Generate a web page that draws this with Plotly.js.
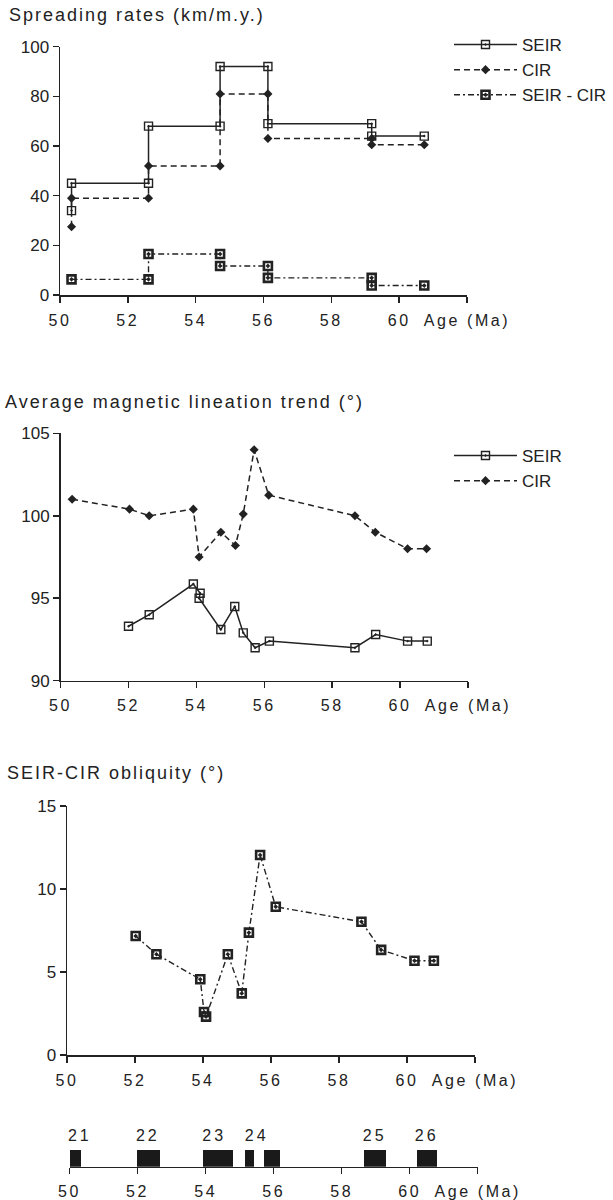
<!DOCTYPE html>
<html>
<head>
<meta charset="utf-8">
<script src="https://cdn.plot.ly/plotly-3.0.1.min.js"></script>
<style>
  html, body { margin: 0; padding: 0; background: #ffffff; }
  #chart { width: 613px; height: 1200px; }
  .xtick text, .x2tick text, .x3tick text, .x4tick text { letter-spacing: 2.6px; }
  .annotation-text { letter-spacing: 2px; }
  g.textpoint text { letter-spacing: 3px; }
</style>
</head>
<body>
<div id="chart"></div>
<script>
// ---------- Data ----------
// Panel 1: spreading rates (km/m.y.), step functions
var rateAge   = [50.34, 50.34, 52.61, 52.61, 54.72, 54.72, 56.13, 56.13, 59.19, 59.19, 60.74];
var seirRate  = [34, 45, 45, 68, 68, 92, 92, 69, 69, 64, 64];
var cirRate   = [27.5, 39, 39, 52, 52, 81, 81, 63, 63, 60.5, 60.5];
var diffAge   = [50.34, 52.61, 52.61, 54.72, 54.72, 56.13, 56.13, 59.19, 59.19, 60.74];
var diffRate  = [6.3, 6.3, 16.5, 16.5, 11.7, 11.7, 6.9, 6.9, 3.8, 3.8];

// Panel 2: average magnetic lineation trend (deg)
var cirTrendAge  = [50.34, 52.03, 52.61, 53.91, 54.08, 54.72, 55.15, 55.38, 55.70, 56.13, 58.67, 59.27, 60.22, 60.78];
var cirTrend     = [101.0, 100.4, 100.0, 100.4, 97.5, 99.0, 98.2, 100.1, 104.0, 101.25, 100.0, 99.0, 98.0, 98.0];
var seirTrendAge = [52.0, 52.61, 53.91, 54.11, 54.08, 54.72, 55.13, 55.38, 55.73, 56.15, 58.67, 59.28, 60.22, 60.8];
var seirTrend    = [93.3, 94.0, 95.86, 95.3, 95.0, 93.1, 94.5, 92.9, 92.0, 92.4, 92.0, 92.8, 92.4, 92.4];

// Panel 3: SEIR-CIR obliquity (deg)
var oblAge    = [52.02, 52.63, 53.92, 54.03, 54.09, 54.73, 55.14, 55.35, 55.68, 56.14, 58.66, 59.24, 60.22, 60.79];
var obliquity = [7.17, 6.07, 4.56, 2.59, 2.31, 6.07, 3.71, 7.37, 12.05, 8.93, 8.03, 6.33, 5.68, 5.68];

// Panel 4: magnetic anomaly (chron) blocks
var chronStart = [50.0, 51.98, 53.91, 55.16, 55.71, 58.67, 60.22];
var chronEnd   = [50.34, 52.67, 54.80, 55.43, 56.20, 59.30, 60.80];
var chronLabels   = ['21', '22', '23', '24', '25', '26'];
var chronLabelAge = [50.30, 52.30, 54.25, 55.50, 58.97, 60.50];

// Ticks
var ageTicks = [50, 52, 54, 56, 58, 60, 62];
var ageTickText = ['50', '52', '54', '56', '58', '60', 'Age (Ma)'];
var rateTicks = [0, 20, 40, 60, 80, 100];
var trendTicks = [90, 95, 100, 105];
var oblTicks = [0, 5, 10, 15];

// ---------- Layout helpers ----------
var W = 613, H = 1200;
function px(x) { return x / W; }
function py(y) { return 1 - y / H; }

var INK = '#222222';
var FONT = '"Liberation Sans", Arial, Helvetica, sans-serif';

var chronMid = chronStart.map(function (s, i) { return (s + chronEnd[i]) / 2; });
var chronWidth = chronStart.map(function (s, i) { return chronEnd[i] - s; });
var chronOnes = chronStart.map(function () { return 1; });
var chronLabelY = chronLabels.map(function () { return 1.75; });

var solid = 'solid', dashed = '6px,4px', dashdot = '6px,3px,2px,3px';

var seirMarker = { symbol: 'square-open-dot', size: 8, color: INK, line: { color: INK, width: 1.4 } };
var cirMarker  = { symbol: 'diamond', size: 7, color: INK, line: { color: INK, width: 0 } };
var diffMarker = { symbol: 'square-open-dot', size: 8, color: INK, line: { color: INK, width: 2.6 } };

var traces = [
  { x: rateAge, y: seirRate, xaxis: 'x', yaxis: 'y', mode: 'lines+markers', name: 'SEIR',
    line: { color: INK, width: 1.5, dash: solid }, marker: seirMarker, legend: 'legend', cliponaxis: false },
  { x: rateAge, y: cirRate, xaxis: 'x', yaxis: 'y', mode: 'lines+markers', name: 'CIR',
    line: { color: INK, width: 1.5, dash: dashed }, marker: cirMarker, legend: 'legend', cliponaxis: false },
  { x: diffAge, y: diffRate, xaxis: 'x', yaxis: 'y', mode: 'lines+markers', name: 'SEIR - CIR',
    line: { color: INK, width: 1.4, dash: dashdot }, marker: diffMarker, legend: 'legend', cliponaxis: false },

  { x: seirTrendAge, y: seirTrend, xaxis: 'x2', yaxis: 'y2', mode: 'lines+markers', name: 'SEIR',
    line: { color: INK, width: 1.5, dash: solid }, marker: seirMarker, legend: 'legend2', cliponaxis: false },
  { x: cirTrendAge, y: cirTrend, xaxis: 'x2', yaxis: 'y2', mode: 'lines+markers', name: 'CIR',
    line: { color: INK, width: 1.5, dash: dashed }, marker: cirMarker, legend: 'legend2', cliponaxis: false },

  { x: oblAge, y: obliquity, xaxis: 'x3', yaxis: 'y3', mode: 'lines+markers', name: 'SEIR-CIR obliquity',
    line: { color: INK, width: 1.4, dash: dashdot }, marker: diffMarker, showlegend: false, cliponaxis: false },

  { type: 'bar', x: chronMid, y: chronOnes, width: chronWidth, base: 0, xaxis: 'x4', yaxis: 'y4',
    marker: { color: '#1a1a1a', line: { width: 0 } }, showlegend: false, hoverinfo: 'skip' },
  { x: chronLabelAge, y: chronLabelY, text: chronLabels, mode: 'text', xaxis: 'x4', yaxis: 'y4',
    textposition: 'middle center', textfont: { family: FONT, size: 16, color: INK },
    showlegend: false, cliponaxis: false }
];

function xAxis(d0, d1, anchor) {
  return {
    domain: [px(d0), px(d1)], range: [50, 62], anchor: anchor,
    tickmode: 'array', tickvals: ageTicks, ticktext: ageTickText,
    showline: true, linecolor: INK, linewidth: 1.5,
    ticks: 'outside', ticklen: 6, tickwidth: 1.5, tickcolor: INK,
    showgrid: false, zeroline: false, ticklabelstandoff: 4,
    tickfont: { family: FONT, size: 16, color: INK }, fixedrange: true
  };
}
function yAxis(top, bottom, range, ticks, anchor) {
  return {
    domain: [py(bottom), py(top)], range: range, anchor: anchor,
    tickmode: 'array', tickvals: ticks,
    showline: true, linecolor: INK, linewidth: 1.5,
    ticks: 'outside', ticklen: 6, tickwidth: 1.5, tickcolor: INK,
    showgrid: false, zeroline: false,
    tickfont: { family: FONT, size: 17, color: INK }, fixedrange: true
  };
}

var layout = {
  width: W, height: H,
  margin: { l: 0, r: 0, t: 0, b: 0 },
  paper_bgcolor: '#ffffff', plot_bgcolor: 'rgba(0,0,0,0)',
  font: { family: FONT, color: INK },
  showlegend: true, bargap: 0,

  xaxis:  xAxis(60, 467, 'y'),
  yaxis:  yAxis(46.7, 295, [0, 100], rateTicks, 'x'),
  xaxis2: xAxis(60.6, 468, 'y2'),
  yaxis2: yAxis(433.3, 680.7, [90, 105], trendTicks, 'x2'),
  xaxis3: xAxis(67, 475, 'y3'),
  yaxis3: yAxis(806, 1055, [0, 15], oblTicks, 'x3'),
  xaxis4: xAxis(69.6, 477.7, 'y4'),
  yaxis4: { domain: [py(1166.7), py(1125)], range: [0, 41.7 / 17], visible: false, fixedrange: true, anchor: 'x4' },

  legend: {
    x: px(449), y: py(27), xanchor: 'left', yanchor: 'top',
    bgcolor: 'rgba(0,0,0,0)', borderwidth: 0, itemwidth: 63, tracegroupgap: 0,
    font: { family: FONT, size: 17, color: INK }
  },
  legend2: {
    x: px(449), y: py(438), xanchor: 'left', yanchor: 'top',
    bgcolor: 'rgba(0,0,0,0)', borderwidth: 0, itemwidth: 63, tracegroupgap: 0,
    font: { family: FONT, size: 17, color: INK }
  },

  annotations: [
    { text: 'Spreading rates (km/m.y.)', xref: 'paper', yref: 'paper', x: px(7), y: py(15),
      xanchor: 'left', yanchor: 'middle', showarrow: false, font: { family: FONT, size: 18, color: INK } },
    { text: 'Average magnetic lineation trend (°)', xref: 'paper', yref: 'paper', x: px(3), y: py(402),
      xanchor: 'left', yanchor: 'middle', showarrow: false, font: { family: FONT, size: 18, color: INK } },
    { text: 'SEIR-CIR obliquity (°)', xref: 'paper', yref: 'paper', x: px(5), y: py(773),
      xanchor: 'left', yanchor: 'middle', showarrow: false, font: { family: FONT, size: 18, color: INK } }
  ]
};

Plotly.newPlot('chart', traces, layout, { displayModeBar: false, staticPlot: true });
</script>
</body>
</html>
